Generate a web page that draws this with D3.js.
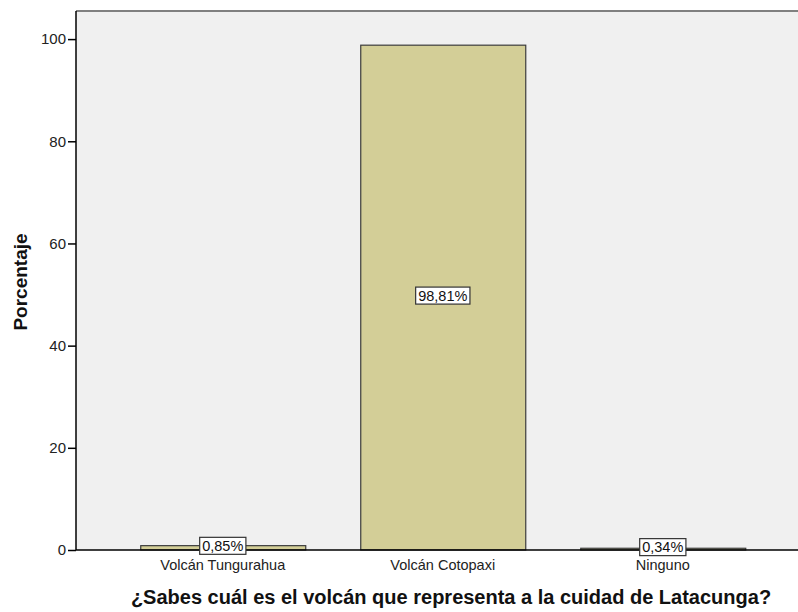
<!DOCTYPE html>
<html><head><meta charset="utf-8">
<script src="https://cdn.jsdelivr.net/npm/d3@7"></script>
<style>body{margin:0;background:#fff;} svg{display:block;font-family:"Liberation Sans",Arial,sans-serif;}</style>
</head><body><svg id="c" width="798" height="612"></svg>
<script>
const categories = ["Volcán Tungurahua", "Volcán Cotopaxi", "Ninguno"];
const values = [0.85, 98.81, 0.34];
const valueLabels = ["0,85%", "98,81%", "0,34%"];
const yTicks = [0, 20, 40, 60, 80, 100];
const xTitle = "¿Sabes cuál es el volcán que representa a la cuidad de Latacunga?";
const yTitle = "Porcentaje";

(function () {
const svg = d3.select("#c");
const pL = 76, pT = 11, pB = 550, pR = 809.5;
const y = d3.scaleLinear().domain([0, 105.5]).range([pB, pT]);
const x = d3.scaleBand().domain(categories).range([pL, pR]).paddingInner(0.25).paddingOuter(0.292);

svg.append("rect").attr("x", pL).attr("y", pT).attr("width", 798 - pL).attr("height", pB - pT).attr("fill", "#f0f0f0");
svg.append("line").attr("x1", pL).attr("x2", 798).attr("y1", pT).attr("y2", pT).attr("stroke", "#808080").attr("stroke-width", 2);

svg.selectAll("rect.bar").data(values).join("rect").attr("class", "bar")
  .attr("x", (d, i) => x(categories[i]) + 0.5)
  .attr("y", d => y(d))
  .attr("width", x.bandwidth())
  .attr("height", d => pB - y(d))
  .attr("fill", "#d3ce97").attr("stroke", "#3c3c3c").attr("stroke-width", 1.2);

const ya = svg.append("g").attr("transform", `translate(${pL},0)`)
  .call(d3.axisLeft(y).tickValues(yTicks).tickSize(8).tickSizeOuter(0).tickPadding(2));
ya.select(".domain").attr("stroke", "#000").attr("stroke-width", 1.5).attr("d", `M0,${pB}V${pT}`);
ya.selectAll(".tick line").attr("stroke", "#000").attr("stroke-width", 1.5);
ya.selectAll(".tick text").attr("font-size", 15).attr("fill", "#222").attr("font-family", "Liberation Sans, Arial");

const xa = svg.append("g").attr("transform", `translate(0,${pB})`)
  .call(d3.axisBottom(x).tickSize(0).tickPadding(10));
xa.select(".domain").attr("stroke", "#000").attr("stroke-width", 1.5).attr("d", `M${pL},0H798`);
xa.selectAll(".tick text").attr("font-size", 14.5).attr("fill", "#222").attr("font-family", "Liberation Sans, Arial");

const lg = svg.selectAll("g.vl").data(values).join("g").attr("class", "vl")
  .attr("transform", (d, i) => `translate(${x(categories[i]) + x.bandwidth() / 2},${(y(d) + pB) / 2 - 2})`);
lg.each(function (d, i) {
  const g = d3.select(this);
  const t = g.append("text").attr("text-anchor", "middle").attr("dy", "0.36em")
    .attr("font-size", 14.5).attr("fill", "#111").text(valueLabels[i]);
  const bb = t.node().getBBox();
  g.insert("rect", "text").attr("x", bb.x - 2.5).attr("y", -8.5).attr("width", bb.width + 5).attr("height", 17)
    .attr("fill", "#fff").attr("stroke", "#333").attr("stroke-width", 1.2);
});

svg.append("text").attr("x", 451).attr("y", 604).attr("text-anchor", "middle")
  .attr("font-size", 20).attr("font-weight", "bold").attr("fill", "#111").text(xTitle);
svg.append("text").attr("transform", "translate(27,282) rotate(-90)").attr("text-anchor", "middle")
  .attr("font-size", 19).attr("font-weight", "bold").attr("fill", "#111").text(yTitle);
})();
</script></body></html>
